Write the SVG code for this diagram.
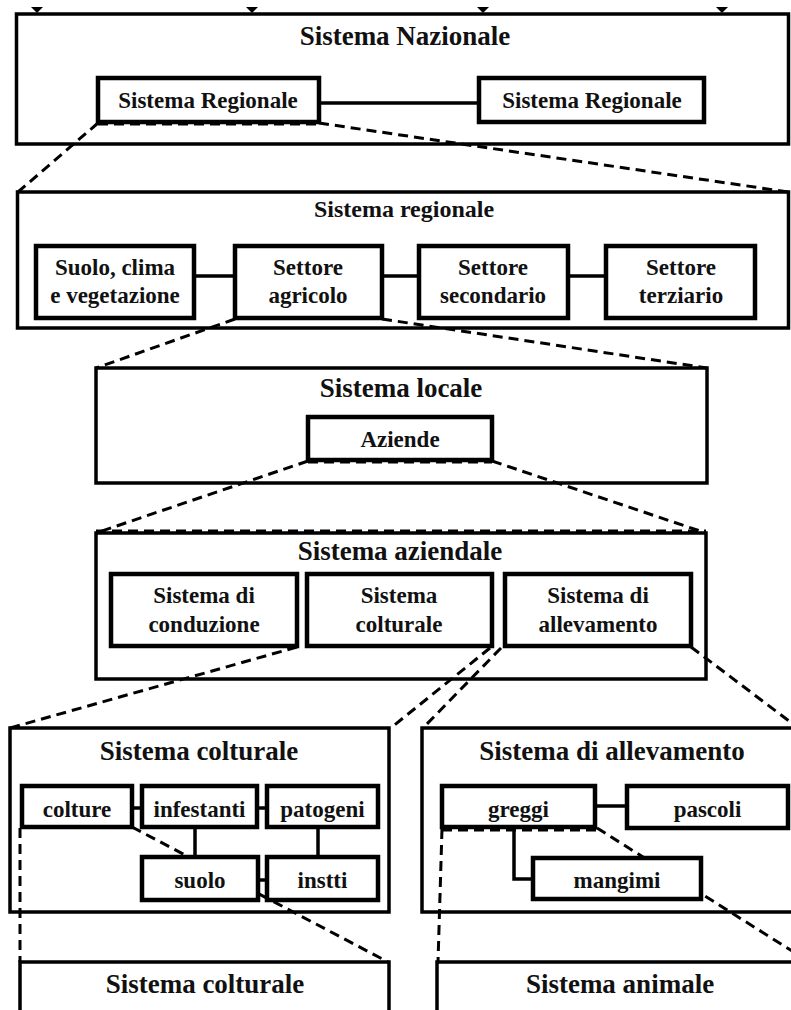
<svg xmlns="http://www.w3.org/2000/svg" width="791" height="1010" viewBox="0 0 791 1010">
  <style>
    .box { fill: #fff; stroke: #000; stroke-width: 3.5; }
    .inner { fill: #fff; stroke: #000; stroke-width: 4.5; }
    .title { font-family: "Liberation Serif", "Times New Roman", serif; font-weight: bold; font-size: 27px; text-anchor: middle; fill: #111; }
    .label { font-family: "Liberation Serif", "Times New Roman", serif; font-weight: bold; font-size: 23px; text-anchor: middle; fill: #111; }
    .link { fill: none; stroke: #000; stroke-width: 3.5; }
    .dash { fill: none; stroke: #000; stroke-width: 3; stroke-dasharray: 10 6; }
    .tick { fill: #000; }
  </style>

  <rect width="791" height="1010" fill="#fff"/>

  <!-- containers -->
  <g id="sistema-nazionale">
    <rect class="box" x="16.5" y="14" width="772" height="130"/>
    <text class="title" x="405" y="45">Sistema Nazionale</text>
  </g>
  <g id="sistema-regionale">
    <rect class="box" x="17.5" y="192" width="771" height="136"/>
    <text class="title" x="404" y="217" style="font-size:24px">Sistema regionale</text>
  </g>
  <g id="sistema-locale">
    <rect class="box" x="96" y="368" width="611" height="115"/>
    <text class="title" x="401" y="397">Sistema locale</text>
  </g>
  <g id="sistema-aziendale">
    <rect class="box" x="96" y="533" width="610" height="146"/>
    <text class="title" x="400" y="560">Sistema aziendale</text>
  </g>
  <g id="sistema-colturale">
    <rect class="box" x="10" y="728" width="379" height="184"/>
    <text class="title" x="199" y="760">Sistema colturale</text>
  </g>
  <g id="sistema-allevamento">
    <rect class="box" x="422" y="728" width="390" height="184"/>
    <text class="title" x="612" y="760">Sistema di allevamento</text>
  </g>
  <g id="sistema-colturale-dettaglio">
    <rect class="box" x="20" y="962" width="369" height="70"/>
    <text class="title" x="205" y="993">Sistema colturale</text>
  </g>
  <g id="sistema-animale">
    <rect class="box" x="437" y="962" width="380" height="70"/>
    <text class="title" x="620" y="993">Sistema animale</text>
  </g>

  <!-- connectors -->
  <g id="connectors">
    <polygon class="tick" points="31,7 43,7 37,13"/>
    <polygon class="tick" points="246,7 258,7 252,13"/>
    <polygon class="tick" points="477,7 489,7 483,13"/>
    <polygon class="tick" points="716,7 728,7 722,13"/>

    <path class="link" d="M319,103 H479"/>
    <path class="link" d="M194,276 H235 M382,276 H419 M568,276 H606"/>
    <path class="link" d="M132,808 H142 M257,808 H267 M258,880 H267 M195,827 V857 M318,827 V857"/>
    <path class="link" d="M595,806 H627 M514,827 V879 H533"/>

    <path class="dash" d="M98,123 L18,192"/>
    <path class="dash" d="M319,123 L788,192"/>
    <path class="dash" d="M98,124 H319"/>
    <path class="dash" d="M235,319 L96,368"/>
    <path class="dash" d="M382,319 L707,368"/>
    <path class="dash" d="M308,461 L96,533"/>
    <path class="dash" d="M492,461 L706,533"/>
    <path class="dash" d="M308,462 H492"/>
    <path class="dash" d="M96,531 H706"/>
    <path class="dash" d="M297,647 L10,728"/>
    <path class="dash" d="M490,648 L392,727"/>
    <path class="dash" d="M501,648 L423,728"/>
    <path class="dash" d="M691,647 L801,730"/>
    <path class="dash" d="M20,828 V962"/>
    <path class="dash" d="M132,827 L388,962"/>
    <path class="dash" d="M442,829 L438,962"/>
    <path class="dash" d="M442,830 H597"/>
    <path class="dash" d="M597,828 L808,961"/>
  </g>

  <!-- inner nodes -->
  <g id="regionale-a">
    <rect class="inner" x="98" y="78" width="221" height="44"/>
    <text class="label" x="208" y="108">Sistema Regionale</text>
  </g>
  <g id="regionale-b">
    <rect class="inner" x="479" y="78" width="225" height="44"/>
    <text class="label" x="592" y="108">Sistema Regionale</text>
  </g>

  <g id="suolo-clima">
    <rect class="inner" x="36" y="246" width="158" height="72"/>
    <text class="label" x="115" y="275">Suolo, clima</text>
    <text class="label" x="115" y="303">e vegetazione</text>
  </g>
  <g id="settore-agricolo">
    <rect class="inner" x="235" y="246" width="147" height="72"/>
    <text class="label" x="308" y="275">Settore</text>
    <text class="label" x="308" y="303">agricolo</text>
  </g>
  <g id="settore-secondario">
    <rect class="inner" x="419" y="246" width="149" height="72"/>
    <text class="label" x="493" y="275">Settore</text>
    <text class="label" x="493" y="303">secondario</text>
  </g>
  <g id="settore-terziario">
    <rect class="inner" x="606" y="246" width="149" height="72"/>
    <text class="label" x="681" y="275">Settore</text>
    <text class="label" x="681" y="303">terziario</text>
  </g>

  <g id="aziende">
    <rect class="inner" x="308" y="417" width="184" height="43"/>
    <text class="label" x="400" y="447">Aziende</text>
  </g>

  <g id="sistema-conduzione">
    <rect class="inner" x="111" y="574" width="186" height="72"/>
    <text class="label" x="204" y="603">Sistema di</text>
    <text class="label" x="204" y="632">conduzione</text>
  </g>
  <g id="sistema-colturale-box">
    <rect class="inner" x="307" y="574" width="185" height="72"/>
    <text class="label" x="399" y="603">Sistema</text>
    <text class="label" x="399" y="632">colturale</text>
  </g>
  <g id="sistema-allevamento-box">
    <rect class="inner" x="505" y="574" width="186" height="72"/>
    <text class="label" x="598" y="603">Sistema di</text>
    <text class="label" x="598" y="632">allevamento</text>
  </g>

  <g id="colture">
    <rect class="inner" x="22" y="786" width="110" height="41"/>
    <text class="label" x="77" y="817">colture</text>
  </g>
  <g id="infestanti">
    <rect class="inner" x="142" y="786" width="115" height="41"/>
    <text class="label" x="199.5" y="817">infestanti</text>
  </g>
  <g id="patogeni">
    <rect class="inner" x="267" y="786" width="111" height="41"/>
    <text class="label" x="322.5" y="817">patogeni</text>
  </g>
  <g id="suolo">
    <rect class="inner" x="142" y="857" width="116" height="43"/>
    <text class="label" x="200" y="888">suolo</text>
  </g>
  <g id="instti">
    <rect class="inner" x="267" y="857" width="111" height="43"/>
    <text class="label" x="322.5" y="888">instti</text>
  </g>

  <g id="greggi">
    <rect class="inner" x="442" y="786" width="153" height="41"/>
    <text class="label" x="518.5" y="817">greggi</text>
  </g>
  <g id="pascoli">
    <rect class="inner" x="627" y="786" width="161" height="42"/>
    <text class="label" x="707.5" y="817">pascoli</text>
  </g>
  <g id="mangimi">
    <rect class="inner" x="533" y="858" width="168" height="41"/>
    <text class="label" x="617" y="888">mangimi</text>
  </g>
</svg>
